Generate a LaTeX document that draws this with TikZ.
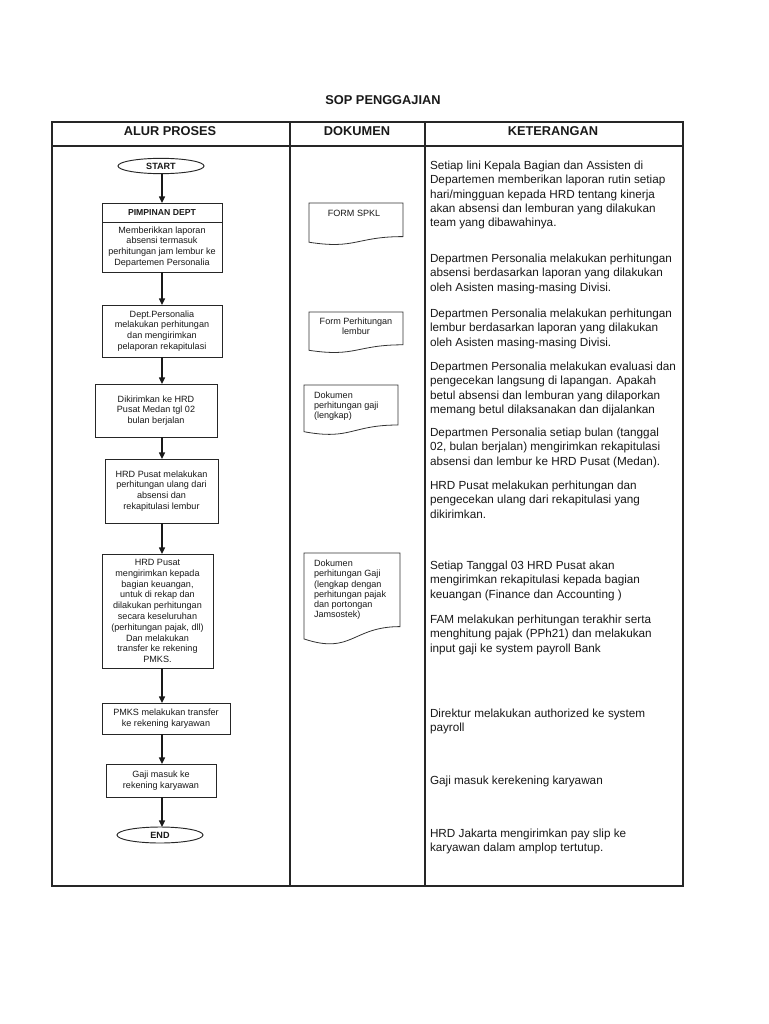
\documentclass[tikz,border=0pt]{standalone}
\usepackage{fontspec}
\setmainfont{Liberation Sans}
\usetikzlibrary{arrows.meta, positioning, shapes.geometric}

\begin{document}
\begin{tikzpicture}[
    x=0.75pt, y=-0.75pt,
    every node/.style={inner sep=0pt, outer sep=0pt, text=black!90},
    box/.style={rectangle, draw=black!85, line width=0.7pt, align=center, minimum width=90pt, font=\fontsize{6.8}{8.1}\selectfont},
    term/.style={ellipse, draw=black!85, line width=0.7pt, minimum width=64.5pt, minimum height=11.5pt, font=\bfseries\fontsize{6.8}{8}\selectfont},
    doctext/.style={font=\fontsize{6.8}{7.7}\selectfont},
    docline/.style={draw=black!80, line width=0.6pt},
    note/.style={anchor=north west, align=left, font=\fontsize{8.8}{10.7}\selectfont},
    head/.style={font=\bfseries\fontsize{9.6}{11}\selectfont},
    flow/.style={-{Triangle[length=5pt, width=4.5pt]}, line width=1pt, black!90}
]

% Page
\fill[white] (0,0) rectangle (768,1024);
\useasboundingbox (0,0) rectangle (768,1024);

% Title
\node[head] (title) at (383,100) {SOP PENGGAJIAN};

% Table frame
\draw[line width=1pt, black!85] (52,122) rectangle (683,886);
\draw[line width=1pt, black!85] (52,146) -- (683,146);
\draw[line width=1pt, black!85] (290,122) -- (290,886);
\draw[line width=1pt, black!85] (425,122) -- (425,886);

% Column headers
\node[head] (halur) at (170,131) {ALUR PROSES};
\node[head] (hdok) at (357,131) {DOKUMEN};
\node[head] (hket) at (553,131) {KETERANGAN};

% ALUR PROSES
\node[term] (start) at (161,166) {START};
\node[box, minimum height=14.25pt, font=\bfseries\fontsize{6.5}{8}\selectfont] (pimhead) at (162,212.5) {PIMPINAN DEPT};
\node[box, minimum height=37.5pt, below=0pt of pimhead] (pimbody) {Memberikkan laporan\\absensi termasuk\\perhitungan jam lembur ke\\Departemen Personalia};
\node[box, minimum height=39pt] (dept) at (162,331) {Dept.Personalia\\melakukan perhitungan\\dan mengirimkan\\pelaporan rekapitulasi};
\node[box, minimum width=91.5pt, minimum height=39.75pt] (kirim) at (156,410.5) {Dikirimkan ke HRD\\Pusat Medan tgl 02\\bulan berjalan};
\node[box, minimum width=84.75pt, minimum height=48pt] (ulang) at (161.5,491) {HRD Pusat melakukan\\perhitungan ulang dari\\absensi dan\\rekapitulasi lembur};
\node[box, minimum width=83.25pt, minimum height=85.5pt] (bagian) at (157.5,611) {HRD Pusat\\mengirimkan kepada\\bagian keuangan,\\untuk di rekap dan\\dilakukan perhitungan\\secara keseluruhan\\(perhitungan pajak, dll)\\Dan melakukan\\transfer ke rekening\\PMKS.};
\node[box, minimum width=96pt, minimum height=23.25pt] (pmks) at (166,718.5) {PMKS melakukan transfer\\ke rekening karyawan};
\node[box, minimum width=82.5pt, minimum height=24.75pt] (gaji) at (161,780.5) {Gaji masuk ke\\rekening karyawan};
\node[term, minimum height=12pt] (finish) at (160,835) {END};

% Arrows
\coordinate (spine) at (162,0);
\foreach \i/\j in {start/pimhead, pimbody/dept, dept/kirim, kirim/ulang,
                   ulang/bagian, bagian/pmks, pmks/gaji, gaji/finish}
    \draw[flow] (\i.south -| spine) -- (\j.north -| spine);

% DOKUMEN
\foreach \x/\y/\w/\h in {309/203/94/42, 309/312/94/41, 304/385/94/50, 304/553/96/92}
    \draw[docline] (\x,\y) -- ({\x+\w},\y) -- ({\x+\w},{\y+0.8*\h})
        .. controls ({\x+0.5*\w},{\y+0.8*\h}) and ({\x+0.5*\w},{\y+1.108*\h}) .. (\x,{\y+0.934*\h}) -- cycle;

\node[doctext] (dspkl) at (354,213) {FORM SPKL};
\node[doctext, align=center, anchor=north] (dlembur) at (356,318) {Form Perhitungan\\lembur};
\node[doctext, align=left, anchor=north west] (dgaji) at (314,391.5) {Dokumen\\perhitungan gaji\\(lengkap)};
\node[doctext, align=left, anchor=north west] (dpajak) at (314,560) {Dokumen\\perhitungan Gaji\\(lengkap dengan\\perhitungan pajak\\dan portongan\\Jamsostek)};

% KETERANGAN
\node[note] (k1) at (430,161) {Setiap lini Kepala Bagian dan Assisten di\\Departemen memberikan laporan rutin setiap\\hari/mingguan kepada HRD tentang kinerja\\akan absensi dan lemburan yang dilakukan\\team yang dibawahinya.};
\node[note] (k2) at (430,254) {Departmen Personalia melakukan perhitungan\\absensi berdasarkan laporan yang dilakukan\\oleh Asisten masing-masing Divisi.};
\node[note] (k3) at (430,309) {Departmen Personalia melakukan perhitungan\\lembur berdasarkan laporan yang dilakukan\\oleh Asisten masing-masing Divisi.};
\node[note] (k4) at (430,362) {Departmen Personalia melakukan evaluasi dan\\pengecekan langsung di lapangan. Apakah\\betul absensi dan lemburan yang dilaporkan\\memang betul dilaksanakan dan dijalankan};
\node[note] (k5) at (430,428) {Departmen Personalia setiap bulan (tanggal\\02, bulan berjalan) mengirimkan rekapitulasi\\absensi dan lembur ke HRD Pusat (Medan).};
\node[note] (k6) at (430,481) {HRD Pusat melakukan perhitungan dan\\pengecekan ulang dari rekapitulasi yang\\dikirimkan.};
\node[note] (k7) at (430,561) {Setiap Tanggal 03 HRD Pusat akan\\mengirimkan rekapitulasi kepada bagian\\keuangan (Finance dan Accounting )};
\node[note] (k8) at (430,615) {FAM melakukan perhitungan terakhir serta\\menghitung pajak (PPh21) dan melakukan\\input gaji ke system payroll Bank};
\node[note] (k9) at (430,709) {Direktur melakukan authorized ke system\\payroll};
\node[note] (k10) at (430,776) {Gaji masuk kerekening karyawan};
\node[note] (k11) at (430,829) {HRD Jakarta mengirimkan pay slip ke\\karyawan dalam amplop tertutup.};

\end{tikzpicture}
\end{document}
